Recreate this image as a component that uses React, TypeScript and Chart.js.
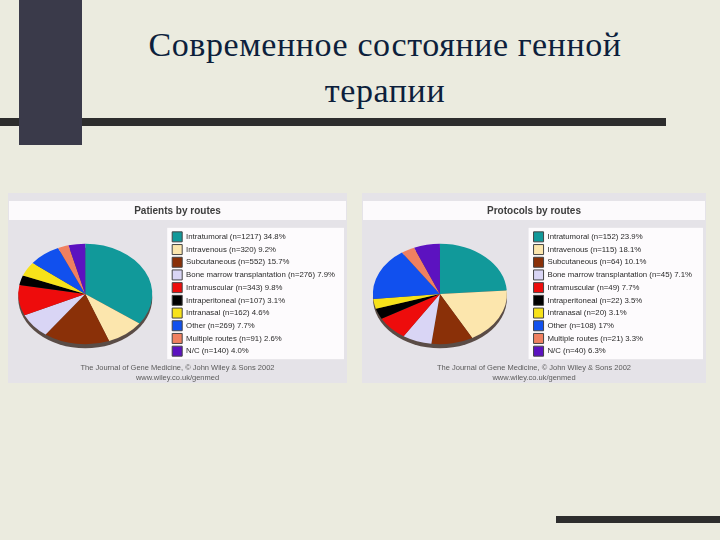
import React, { useEffect, useRef } from "react";
import { Chart, registerables } from "chart.js";

Chart.register(...registerables);

const routeNames = [
  "Intratumoral",
  "Intravenous",
  "Subcutaneous",
  "Bone marrow transplantation",
  "Intramuscular",
  "Intraperitoneal",
  "Intranasal",
  "Other",
  "Multiple routes",
  "N/C",
];
const patientCounts = [1217, 320, 552, 276, 343, 107, 162, 269, 91, 140];
const patientPercents = ["34.8", "9.2", "15.7", "7.9", "9.8", "3.1", "4.6", "7.7", "2.6", "4.0"];
const protocolCounts = [152, 115, 64, 45, 49, 22, 20, 108, 21, 40];
const protocolPercents = ["23.9", "18.1", "10.1", "7.1", "7.7", "3.5", "3.1", "17", "3.3", "6.3"];
const routeColors = [
  "#11999a",
  "#fce6ad",
  "#8a3008",
  "#d9d5f5",
  "#ee0c0c",
  "#000000",
  "#f7e21a",
  "#1150ee",
  "#f08060",
  "#5c12c0",
];
const footerLines = [
  "The Journal of Gene Medicine, © John Wiley & Sons 2002",
  "www.wiley.co.uk/genmed",
];

type PanelProps = {
  left: number;
  top: number;
  width: number;
  height: number;
  title: string;
  counts: number[];
  percents: string[];
  legendShift: number;
  pieShift: number;
};

function PiePanel({ left, top, width, height, title, counts, percents, legendShift, pieShift }: PanelProps) {
  const ref = useRef<HTMLCanvasElement | null>(null);

  useEffect(() => {
    if (!ref.current) return;
    const labels = routeNames.map((n, i) => `${n} (n=${counts[i]}) ${percents[i]}%`);
    let saved = false;
    const panelPlugin = {
      id: "panelDecor",
      afterLayout(chart: any) {
        const lg = chart.legend;
        if (lg) {
          lg.left -= legendShift;
          lg.right -= legendShift;
        }
        const ca = chart.chartArea;
        ca.left += pieShift;
        ca.right += pieShift;
      },
      beforeDraw(chart: any) {
        const { ctx } = chart;
        const w = chart.width;
        const h = chart.height;
        ctx.save();
        ctx.fillStyle = "#e5e3e8";
        ctx.fillRect(0, 0, w, h);
        ctx.fillStyle = "#fcfafc";
        ctx.fillRect(1, 8, w - 2, 19);
        const lg = chart.legend;
        if (lg && lg.legendHitBoxes && lg.legendHitBoxes.length) {
          const hb = lg.legendHitBoxes;
          const t = hb[0].top - 4;
          const last = hb[hb.length - 1];
          const b = last.top + last.height + 3;
          const l = hb[0].left - 5;
          ctx.fillStyle = "#fdfbfd";
          ctx.fillRect(l, t, w - 3 - l, b - t);
        }
        ctx.restore();
      },
      beforeDatasetsDraw(chart: any) {
        const arc = chart.getDatasetMeta(0).data[0];
        if (!arc) return;
        const { x, y, outerRadius } = arc.getProps(["x", "y", "outerRadius"], true);
        const ctx = chart.ctx;
        ctx.save();
        saved = true;
        ctx.fillStyle = "#5a4c46";
        ctx.beginPath();
        ctx.ellipse(x, y + 4, outerRadius, outerRadius * 0.75, 0, 0, Math.PI * 2);
        ctx.fill();
        ctx.translate(x, y);
        ctx.scale(1, 0.75);
        ctx.translate(-x, -y);
      },
      afterDatasetsDraw(chart: any) {
        if (saved) {
          chart.ctx.restore();
          saved = false;
        }
      },
    };

    const defaultGen = (Chart as any).overrides.pie.plugins.legend.labels.generateLabels;

    const chart = new Chart(ref.current, {
      type: "pie",
      data: {
        labels,
        datasets: [
          {
            data: counts,
            backgroundColor: routeColors,
            borderWidth: 0,
            radius: 67,
          } as any,
        ],
      },
      options: {
        animation: false,
        responsive: false,
        maintainAspectRatio: false,
        layout: { padding: 0 },
        plugins: {
          title: {
            display: true,
            text: title,
            color: "#3d3d3d",
            font: { family: "Liberation Sans", size: 10, weight: "bold" },
            padding: { top: 12, bottom: 10 },
          },
          subtitle: {
            display: true,
            position: "bottom",
            text: footerLines,
            color: "#5a5a5a",
            font: { family: "Liberation Sans", size: 7.5, lineHeight: 1.333 },
            padding: { top: 2, bottom: 0 },
          },
          legend: {
            position: "right",
            align: "center",
            fullSize: false,
            labels: {
              boxWidth: 10,
              boxHeight: 10,
              padding: 2.7,
              color: "#2a2a2a",
              font: { family: "Liberation Sans", size: 7.8 },
              generateLabels: (c: any) =>
                defaultGen(c).map((it: any) => ({ ...it, lineWidth: 1, strokeStyle: "#444" })),
            },
          },
          tooltip: { enabled: false },
        },
      } as any,
      plugins: [panelPlugin],
    });
    return () => chart.destroy();
  }, [counts, percents, title, legendShift, pieShift]);

  return (
    <canvas
      ref={ref}
      width={width}
      height={height}
      style={{ position: "absolute", left, top, width, height }}
    />
  );
}

export default function App() {
  return (
    <div
      style={{
        position: "fixed",
        left: 0,
        top: 0,
        width: 720,
        height: 540,
        background: "#ebebdf",
        overflow: "hidden",
      }}
    >
      <div style={{ position: "absolute", left: 0, top: 118, width: 666, height: 8, background: "#2d2d2d" }} />
      <div style={{ position: "absolute", left: 19, top: 0, width: 63, height: 145, background: "#3a3a4a" }} />
      <div style={{ position: "absolute", left: 556, top: 516, width: 164, height: 7, background: "#2d2d2d" }} />
      <div
        style={{
          position: "absolute",
          left: 135,
          top: 22,
          width: 500,
          textAlign: "center",
          fontFamily: "'Liberation Serif', 'Times New Roman', serif",
          fontSize: 34,
          letterSpacing: 0.6,
          lineHeight: "46px",
          color: "#0d1f3c",
          whiteSpace: "nowrap",
        }}
      >
        Современное состояние генной
        <br />
        терапии
      </div>
      <PiePanel
        left={8}
        top={193}
        width={339}
        height={190}
        title="Patients by routes"
        counts={patientCounts}
        percents={patientPercents}
        legendShift={8}
        pieShift={-7.5}
      />
      <PiePanel
        left={362}
        top={193}
        width={344}
        height={190}
        title="Protocols by routes"
        counts={protocolCounts}
        percents={protocolPercents}
        legendShift={4}
        pieShift={-8.5}
      />
    </div>
  );
}
